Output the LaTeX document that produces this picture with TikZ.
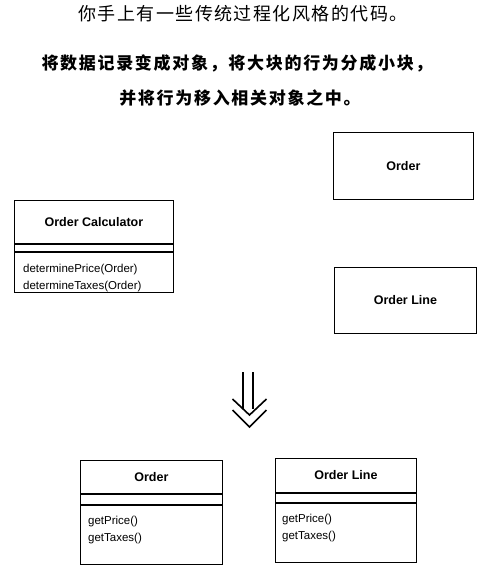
\documentclass[tikz,border=0pt]{standalone}
\usepackage{fontspec}
\setmainfont{Liberation Sans}
\newfontfamily\cjk{Noto Sans CJK SC}
\usetikzlibrary{calc}
\begin{document}
\begin{tikzpicture}[x=1pt,y=-1pt,
  box/.style={draw, line width=0.8pt, rectangle, inner sep=0pt, anchor=north west},
  hdr/.style={box, font=\bfseries\fontsize{12.5}{14}\selectfont},
  plain/.style={box},
  mtext/.style={inner sep=0pt, anchor=north west, align=left, font=\fontsize{11.5}{17}\selectfont},
  title/.style={inner sep=0pt, font=\cjk\addfontfeature{LetterSpace=8}\fontsize{18}{20}\selectfont},
  btitle/.style={inner sep=0pt, font=\cjk\bfseries\addfontfeature{LetterSpace=10}\fontsize{17}{20}\selectfont},
  shaft/.style={line width=1.6pt},
  chev/.style={line width=1.6pt, line join=miter}
]
\useasboundingbox (0,0) rectangle (496,574);

% titles
\node[title] (t1) at (243,14) {你手上有一些传统过程化风格的代码。};
\node[btitle] (t2) at (237,63) {将数据记录变成对象，将大块的行为分成小块，};
\node[btitle] (t3) at (240,98) {并将行为移入相关对象之中。};

% Order Calculator
\node[hdr, minimum width=159pt, minimum height=43pt] (ocH) at (14,200) {Order Calculator};
\node[plain, minimum width=159pt, minimum height=7pt] (ocA) at (ocH.south west) {};
\node[plain, minimum width=159pt, minimum height=40pt] (ocM) at (ocA.south west) {};
\node[mtext] (ocT) at ($(ocM.north west)+(9,12)$) {determinePrice(Order)\\determineTaxes(Order)};

% Right-hand data records
\node[hdr, minimum width=140pt, minimum height=67pt] (ord) at (333,132) {Order};
\node[hdr, minimum width=142pt, minimum height=66pt] (ordl) at (334,267) {Order Line};

% big arrow
\coordinate (aTop) at (248,372);
\coordinate (aTip) at (249.5,427);
\draw[shaft] ($(aTop)+(-5,0)$) -- ($(aTop)+(-5,37)$);
\draw[shaft] ($(aTop)+(5,0)$) -- ($(aTop)+(5,37)$);
\draw[chev] ($(aTip)+(-17,-28)$) -- ($(aTip)+(0,-12)$) -- ($(aTip)+(17,-28)$);
\draw[chev] ($(aTip)+(-17,-17)$) -- (aTip) -- ($(aTip)+(17,-17)$);

% Bottom: Order
\node[hdr, minimum width=142pt, minimum height=33pt] (oH) at (80,460) {Order};
\node[plain, minimum width=142pt, minimum height=10pt] (oA) at (oH.south west) {};
\node[plain, minimum width=142pt, minimum height=59pt] (oM) at (oA.south west) {};
\node[mtext] (oT) at ($(oM.north west)+(8,11)$) {getPrice()\\getTaxes()};

% Bottom: Order Line
\node[hdr, minimum width=141pt, minimum height=34pt] (lH) at (275,458) {Order Line};
\node[plain, minimum width=141pt, minimum height=9pt] (lA) at (lH.south west) {};
\node[plain, minimum width=141pt, minimum height=59pt] (lM) at (lA.south west) {};
\node[mtext] (lT) at ($(lM.north west)+(7,11)$) {getPrice()\\getTaxes()};
\end{tikzpicture}
\end{document}
